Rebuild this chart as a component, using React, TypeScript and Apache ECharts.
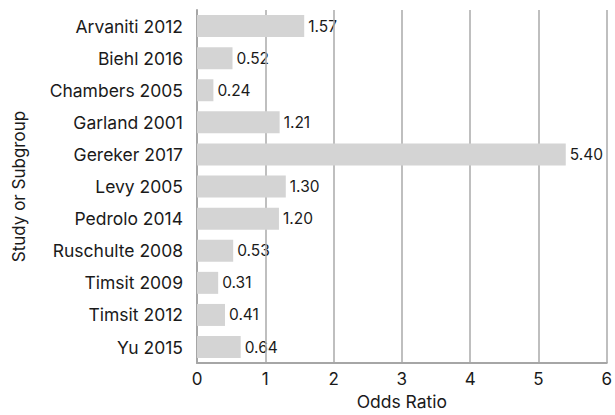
import React, { useEffect, useRef } from "react";
import * as echarts from "echarts";

const categories = [
  "Arvaniti 2012",
  "Biehl 2016",
  "Chambers 2005",
  "Garland 2001",
  "Gereker 2017",
  "Levy 2005",
  "Pedrolo 2014",
  "Ruschulte 2008",
  "Timsit 2009",
  "Timsit 2012",
  "Yu 2015",
];
const oddsRatios = [1.57, 0.52, 0.24, 1.21, 5.4, 1.3, 1.2, 0.53, 0.31, 0.41, 0.64];
const xTicks = [0, 1, 2, 3, 4, 5, 6];

const FONT = "Inter, 'Noto Sans', sans-serif";

export default function App() {
  const ref = useRef<HTMLDivElement>(null);
  useEffect(() => {
    document.body.style.margin = "0";
    const chart = echarts.init(ref.current!, null, { renderer: "svg" });
    chart.setOption({
      animation: false,
      backgroundColor: "#ffffff",
      grid: { left: 197, right: 0, top: 10, bottom: 43, containLabel: false },
      xAxis: {
        type: "value",
        min: xTicks[0],
        max: xTicks[xTicks.length - 1],
        interval: 1,
        z: 3,
        name: "Odds Ratio",
        nameLocation: "middle",
        nameGap: 27,
        nameTextStyle: { fontFamily: FONT, fontSize: 17.5, color: "#1a1a1a" },
        axisLine: { show: true, lineStyle: { color: "#a6a6a6", width: 2 } },
        axisTick: { show: false },
        axisLabel: { fontFamily: FONT, fontSize: 17, color: "#1a1a1a", margin: 7 },
        splitLine: { show: true, lineStyle: { color: "#aaaaaa", width: 1.5 } },
      },
      yAxis: {
        type: "category",
        data: categories,
        inverse: true,
        z: 3,
        name: "Study or Subgroup",
        nameLocation: "middle",
        nameGap: 170,
        nameTextStyle: { fontFamily: FONT, fontSize: 17, color: "#1a1a1a" },
        axisLine: { show: true, lineStyle: { color: "#a6a6a6", width: 2 } },
        axisTick: { show: false },
        axisLabel: { fontFamily: FONT, fontSize: 17.5, color: "#1a1a1a", margin: 14 },
        splitLine: { show: false },
      },
      series: [
        {
          type: "bar",
          data: oddsRatios,
          barWidth: 22,
          z: 1,
          itemStyle: { color: "rgba(0,0,0,0)" },
          label: {
            show: true,
            position: "right",
            distance: 4,
            fontFamily: FONT,
            fontSize: 15.5,
            color: "#1a1a1a",
            formatter: (p: any) => Number(p.value).toFixed(2),
          },
          silent: true,
        },
        {
          type: "bar",
          data: oddsRatios,
          barWidth: 22,
          barGap: "-100%",
          z: 5,
          itemStyle: { color: "#d4d4d4" },
          label: { show: false },
        },
      ],
    });
    return () => chart.dispose();
  }, []);
  return (
    <div
      ref={ref}
      style={{ position: "fixed", left: 0, top: 0, width: 615, height: 415 }}
    />
  );
}
